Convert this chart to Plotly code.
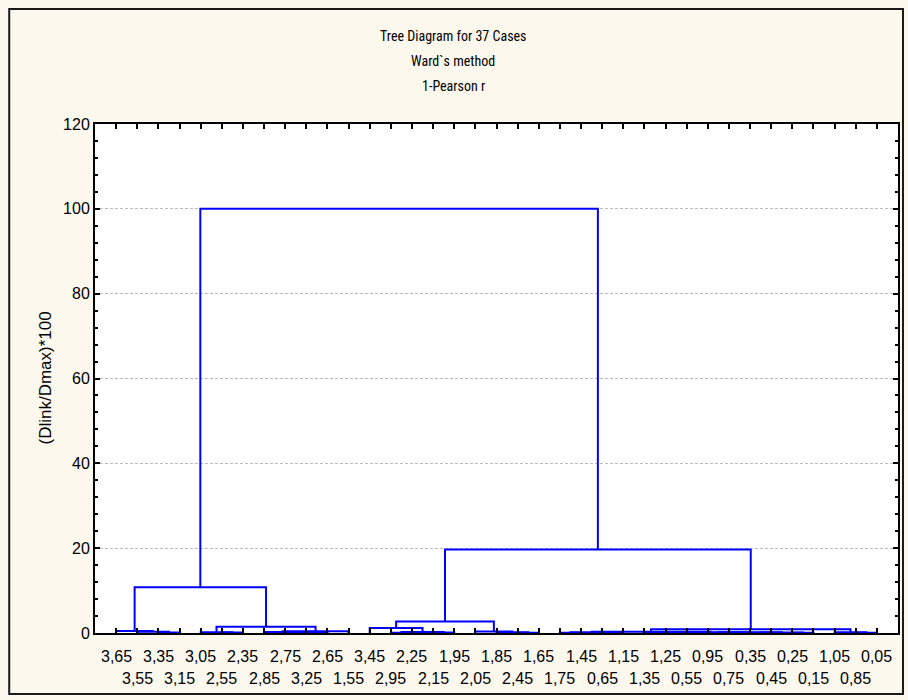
import plotly.graph_objects as go

# Leaf labels in dendrogram order (left to right)
leaf_labels = ["3,65", "3,55", "3,35", "3,15", "3,05", "2,55", "2,35", "2,85",
               "2,75", "3,25", "2,65", "1,55", "3,45", "2,95", "2,25", "2,15",
               "1,95", "2,05", "1,85", "2,45", "1,65", "1,75", "1,45", "0,65",
               "1,15", "1,35", "1,25", "0,55", "0,95", "0,75", "0,35", "0,45",
               "0,25", "0,15", "1,05", "0,85", "0,05"]

# Linkage: ids 0..36 are leaves, merge k creates cluster id 37 + k
merge_a = [2, 1, 0, 5, 4, 9, 8, 7, 44, 41, 39,
           13, 15, 48, 12, 19, 18, 17, 51,
           21, 23, 56, 25, 59, 28, 30, 32, 62, 61, 60, 58, 35, 34, 67,
           55, 47]
merge_b = [3, 37, 38, 6, 40, 10, 42, 43, 11, 45, 46,
           14, 16, 49, 50, 20, 52, 53, 54,
           22, 24, 57, 26, 27, 29, 31, 33, 63, 64, 65, 66, 36, 68, 69,
           70, 71]
merge_h = [0.10, 0.30, 0.45, 0.10, 0.20, 0.05, 0.15, 0.25, 0.40, 1.5, 10.8,
           0.05, 0.10, 0.25, 1.2, 0.05, 0.15, 0.35, 2.7,
           0.05, 0.05, 0.15, 0.05, 0.10, 0.05, 0.05, 0.05, 0.10, 0.15, 0.20, 0.30,
           0.05, 0.15, 0.9,
           19.7, 100.0]

y_ticks = [0, 20, 40, 60, 80, 100, 120]

n_leaves = len(leaf_labels)
pos = {i: i + 1 for i in range(n_leaves)}
hgt = {i: 0.0 for i in range(n_leaves)}

xs, ys = [], []
for k, (a, b, h) in enumerate(zip(merge_a, merge_b, merge_h)):
    xa, xb = pos[a], pos[b]
    xs += [xa, xa, xb, xb, None]
    ys += [hgt[a], h, h, hgt[b], None]
    pos[n_leaves + k] = (xa + xb) / 2
    hgt[n_leaves + k] = h

W, H = 908, 700
ML, MR, MT, MB = 95, 8, 124, 67
plot_w = W - ML - MR
plot_h = H - MT - MB

fig = go.Figure()
fig.add_trace(go.Scatter(x=xs, y=ys, mode="lines",
                         line=dict(color="#0000FF", width=2),
                         hoverinfo="skip", showlegend=False))

tick_font = dict(family="Liberation Sans, Arial, sans-serif", size=16, color="#000000")
title_font = dict(family="Roboto Condensed, DejaVu Sans Condensed, sans-serif",
                  size=14, color="#000000")

annotations = []
# leaf labels in two staggered rows
for i, lab in enumerate(leaf_labels):
    annotations.append(dict(x=i + 1, y=0, xref="x", yref="paper", text=lab,
                            showarrow=False, yanchor="top", xanchor="center",
                            yshift=-13 if i % 2 == 0 else -35, font=tick_font))

# three-line heading centred on the page
cx = (W / 2 - ML) / plot_w
for txt, dy in [("Tree Diagram for 37 Cases", 88), ("Ward`s method", 63), ("1-Pearson r", 38)]:
    annotations.append(dict(x=cx, y=1, xref="paper", yref="paper", text=txt,
                            showarrow=False, xanchor="center", yanchor="middle",
                            yshift=dy, font=title_font))

annotations.append(dict(x=0, y=0.5, xref="paper", yref="paper", text="(Dlink/Dmax)*100",
                        textangle=-90, showarrow=False, xanchor="center", yanchor="middle",
                        xshift=-50, font=dict(family="Liberation Sans, Arial, sans-serif",
                                              size=17, color="#000000")))

fig.update_layout(
    width=W, height=H,
    margin=dict(l=ML, r=MR, t=MT, b=MB),
    paper_bgcolor="#FCF8EE",
    plot_bgcolor="#FFFFFF",
    annotations=annotations,
    shapes=[dict(type="rect", xref="paper", yref="paper",
                 x0=-(ML - 9) / plot_w, x1=1 + (MR - 3) / plot_w,
                 y0=-(MB - 6) / plot_h, y1=1 + (MT - 9) / plot_h,
                 line=dict(color="#1A1A1A", width=2), layer="below")],
    xaxis=dict(range=[0, n_leaves + 1], tickvals=list(range(1, n_leaves + 1)),
               showticklabels=False, ticks="inside", ticklen=5, tickwidth=2,
               tickcolor="#000000", showline=True, linecolor="#000000", linewidth=2,
               mirror="ticks", showgrid=False, zeroline=False, fixedrange=True),
    yaxis=dict(range=[0, 120], tickvals=y_ticks, ticks="inside", ticklen=5, tickwidth=2,
               tickcolor="#000000", showline=True, linecolor="#000000", linewidth=2,
               mirror="ticks", showgrid=True, gridcolor="#BDBDBD", gridwidth=1,
               griddash="3px,2px", zeroline=False, tickfont=tick_font,
               minor=dict(dtick=4, ticks="inside", ticklen=3, tickwidth=1.5,
                          tickcolor="#000000", showgrid=False),
               fixedrange=True),
)

fig.write_html("out.html")
